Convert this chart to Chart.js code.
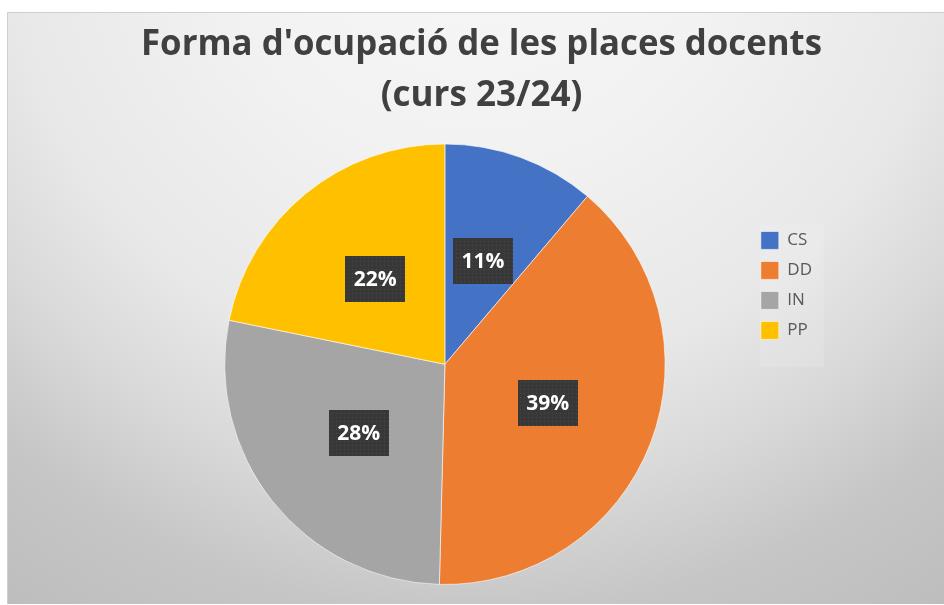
<!DOCTYPE html>
<html>
<head>
<meta charset="utf-8">
<script src="https://cdn.jsdelivr.net/npm/chart.js@4.4.0/dist/chart.umd.min.js"></script>
<style>
  body { margin: 0; background: #fff; }
  #wrap { position: absolute; left: 7px; top: 12px; width: 937px; height: 592px; }
</style>
</head>
<body>
<div id="wrap"><canvas id="pieChart"></canvas></div>
<script>
const categories = ['CS', 'DD', 'IN', 'PP'];
const shares = [11.2, 39.2, 27.8, 21.8];
const sliceColors = ['#4472C4', '#ED7D31', '#A5A5A5', '#FFC000'];
const titleLines = ["Forma d'ocupació de les places docents", '(curs 23/24)'];

// dotted dark pattern for the data label boxes
const patCanvas = document.createElement('canvas');
patCanvas.width = 4; patCanvas.height = 4;
const pctx = patCanvas.getContext('2d');
pctx.fillStyle = '#383838';
pctx.fillRect(0, 0, 4, 4);
pctx.fillStyle = '#4a4a4a';
pctx.fillRect(1, 1, 1, 1);

const backgroundPlugin = {
    id: 'bg',
    beforeDraw(chart) {
        const { ctx, width, height } = chart;
        const cx = width / 2, cy = -112;
        const g = ctx.createRadialGradient(cx, cy, 0, cx, cy, 850);
        g.addColorStop(0, '#f7f7f7');
        g.addColorStop(0.3, '#f2f2f2');
        g.addColorStop(0.56, '#e8e8e8');
        g.addColorStop(0.7, '#d9d9d9');
        g.addColorStop(0.84, '#c6c6c6');
        g.addColorStop(1, '#bdbdbd');
        ctx.save();
        ctx.fillStyle = g;
        ctx.fillRect(0, 0, width, height);
        // thin frame on top and left
        ctx.strokeStyle = '#cfcfcf';
        ctx.lineWidth = 1;
        ctx.beginPath();
        ctx.moveTo(0.5, height);
        ctx.lineTo(0.5, 0.5);
        ctx.lineTo(width, 0.5);
        ctx.stroke();
        // faint panel behind the legend
        const lg = chart.legend;
        if (lg) {
            ctx.fillStyle = 'rgba(255,255,255,0.12)';
            ctx.fillRect(lg.left + 11, 213, 64, 142);
        }
        ctx.restore();
    }
};

const labelPlugin = {
    id: 'pctLabels',
    afterDatasetsDraw(chart) {
        const { ctx } = chart;
        const meta = chart.getDatasetMeta(0);
        const total = shares.reduce((a, b) => a + b, 0);
        const pattern = ctx.createPattern(patCanvas, 'repeat');
        ctx.save();
        meta.data.forEach((arc, i) => {
            const p = arc.getCenterPoint();
            const w = 60, h = 46;
            ctx.fillStyle = pattern;
            ctx.fillRect(Math.round(p.x - w / 2), Math.round(p.y - h / 2), w, h);
            ctx.fillStyle = '#ffffff';
            ctx.font = 'bold 21px "Open Sans"';
            ctx.textAlign = 'center';
            ctx.textBaseline = 'middle';
            ctx.fillText(Math.round(shares[i] / total * 100) + '%', p.x, p.y + 1);
        });
        ctx.restore();
    }
};

const ctx = document.getElementById('pieChart').getContext('2d');
const pieChart = new Chart(ctx, {
    type: 'pie',
    data: {
        labels: categories,
        datasets: [{
            data: shares,
            backgroundColor: sliceColors,
            borderColor: 'rgba(255,255,255,0.6)',
            borderWidth: 1
        }]
    },
    options: {
        responsive: true,
        maintainAspectRatio: false,
        animation: false,
        layout: {
            padding: { left: 134, right: 122, top: 0, bottom: 19 }
        },
        plugins: {
            title: {
                display: true,
                text: titleLines,
                color: '#404040',
                font: { family: 'Open Sans', size: 35, weight: 'bold', lineHeight: 1.45 },
                padding: { top: 8, bottom: 22 }
            },
            legend: {
                position: 'right',
                align: 'start',
                title: {
                    display: true,
                    text: ' ',
                    font: { size: 12 },
                    padding: { top: 193, bottom: 0 }
                },
                labels: {
                    boxWidth: 18,
                    boxHeight: 18,
                    padding: 12,
                    color: '#595959',
                    font: { family: 'Open Sans', size: 17 }
                }
            },
            tooltip: { enabled: false }
        }
    },
    plugins: [backgroundPlugin, labelPlugin]
});
</script>
</body>
</html>
